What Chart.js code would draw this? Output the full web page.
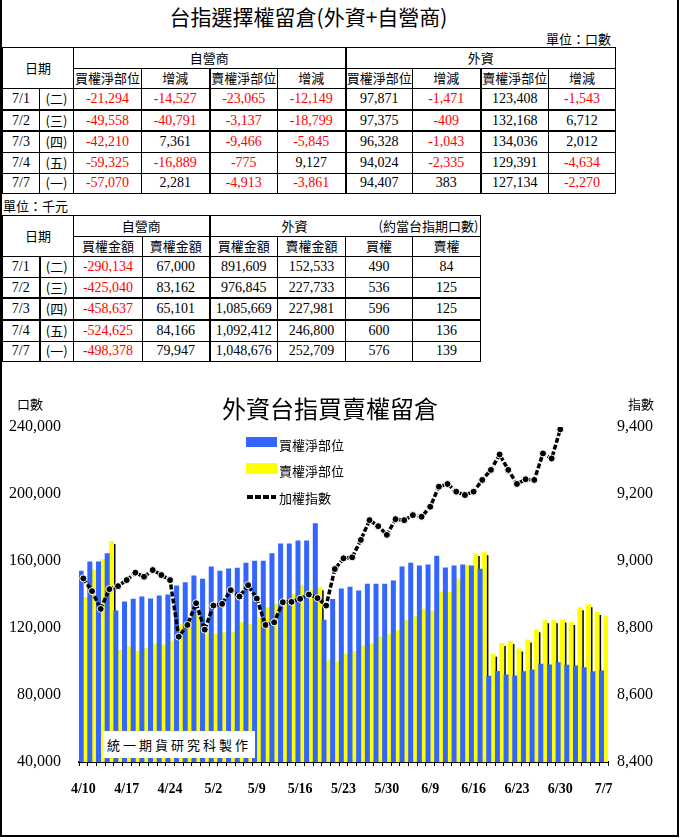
<!DOCTYPE html>
<html lang="zh-Hant">
<head>
<meta charset="UTF-8">
<title>台指選擇權留倉(外資+自營商)</title>
<script src="https://cdn.jsdelivr.net/npm/chart.js"></script>
<style>
  body { margin: 0; background: #fff; color: #000;
         font-family: "Liberation Serif", "Noto Sans CJK TC", serif; }
  #page { position: relative; width: 681px; height: 840px; overflow: hidden; }
  #frame { position: absolute; left: 0; top: 0; width: 675px; height: 835px;
           border-left: 2px solid #000; border-right: 2px solid #000; border-bottom: 2px solid #000; }
  .abs { position: absolute; white-space: nowrap; }
  .cjk { font-family: "Noto Sans CJK TC", sans-serif; }
  #title { left: 0; top: 1px; width: 617px; text-align: center; font-size: 21px; }
  #unit1 { left: 546px; top: 29px; font-size: 13px; }
  #unit2 { left: 3px; top: 196px; font-size: 13px; }
  table { position: absolute; border-collapse: collapse; table-layout: fixed; }
  td { border: 1px solid #000; padding: 0; text-align: center; font-size: 14px; line-height: 16px; overflow: hidden; white-space: nowrap; }
  td.h { font-family: "Noto Sans CJK TC", sans-serif; font-size: 13px; }
  td.neg { color: #ff0000; }
  #t1 { left: 2px; top: 47px; width: 613px; }
  #t1 td { height: 19.6px; }
  #t2 { left: 2px; top: 215px; width: 478px; }
  #t2 td { height: 19.6px; }
  .thickB { border-bottom: 2px solid #000; }
  .thickL { border-left: 2px solid #000; }
  #chartTitle { left: 0; top: 390px; width: 660px; text-align: center; font-size: 24px; }
  #axL { left: 17px; top: 394px; font-size: 13px; }
  #axR { left: 628px; top: 394px; font-size: 13px; }
  #chartBox { position: absolute; left: 0; top: 365px; width: 681px; height: 475px; }
  .lg { position: absolute; left: 246px; font-size: 13px; }
  .lg .sw { position: absolute; left: 0; width: 31px; }
  .lg span { position: absolute; left: 33px; white-space: nowrap; }
  #stamp { left: 103px; top: 731px; width: 152px; height: 27px; background: #fff;
           font-size: 13px; line-height: 27px; text-align: center; letter-spacing: 3px; }
</style>
</head>
<body>
<div id="page">
  <div id="frame"></div>
  <div id="title" class="abs cjk">台指選擇權留倉(外資+自營商)</div>
  <div id="unit1" class="abs cjk">單位：口數</div>
  <table id="t1"></table>
  <div id="unit2" class="abs cjk">單位：千元</div>
  <table id="t2"></table>

  <div id="chartBox"><canvas id="chart" width="681" height="475"></canvas></div>
  <div id="chartTitle" class="abs cjk">外資台指買賣權留倉</div>
  <div id="axL" class="abs cjk">口數</div>
  <div id="axR" class="abs cjk">指數</div>
  <div id="legend"></div>
  <div id="stamp" class="abs cjk">統一期貨研究科製作</div>
</div>

<script>
// ---- table data (口數) ----
const tableDates = ['7/1', '7/2', '7/3', '7/4', '7/7'];
const tableDays = ['(二)', '(三)', '(四)', '(五)', '(一)'];
const dealerCallNet = [-21294, -49558, -42210, -59325, -57070];
const dealerCallChg = [-14527, -40791, 7361, -16889, 2281];
const dealerPutNet = [-23065, -3137, -9466, -775, -4913];
const dealerPutChg = [-12149, -18799, -5845, 9127, -3861];
const foreignCallNet = [97871, 97375, 96328, 94024, 94407];
const foreignCallChg = [-1471, -409, -1043, -2335, 383];
const foreignPutNet = [123408, 132168, 134036, 129391, 127134];
const foreignPutChg = [-1543, 6712, 2012, -4634, -2270];

// ---- table data (千元) ----
const dealerCallAmt = [-290134, -425040, -458637, -524625, -498378];
const dealerPutAmt = [67000, 83162, 65101, 84166, 79947];
const foreignCallAmt = [891609, 976845, 1085669, 1092412, 1048676];
const foreignPutAmt = [152533, 227733, 227981, 246800, 252709];
const equivCall = [490, 536, 596, 600, 576];
const equivPut = [84, 125, 125, 136, 139];

// ---- chart data ----
const dates = ['4/10','4/11','4/14','4/15','4/16','4/17','4/18','4/21','4/22','4/23','4/24','4/25',
  '4/28','4/29','4/30','5/2','5/5','5/6','5/7','5/8','5/9','5/12','5/13','5/14','5/15','5/16',
  '5/19','5/20','5/21','5/22','5/23','5/26','5/27','5/28','5/29','5/30','6/3','6/4','6/5','6/6',
  '6/9','6/10','6/11','6/12','6/13','6/16','6/17','6/18','6/19','6/20','6/23','6/24','6/25','6/26',
  '6/27','6/30','7/1','7/2','7/3','7/4','7/7'];
const callNet = [154000, 159500, 159500, 164500, 130200, 135600, 137200, 138600, 137400, 139200,
  139800, 145200, 147100, 151100, 149200, 156500, 154000, 155400, 155700, 158700,
  160000, 160000, 164500, 170300, 170300, 172000, 172000, 182300, 124800, 137100,
  143400, 144400, 142200, 146200, 146200, 146200, 148200, 156500, 158800, 157100,
  157700, 163000, 155900, 157100, 157700, 157100, 155200, 91300, 94200, 92000,
  91500, 94000, 95000, 98400, 98000, 99342, 97871, 97375, 96328, 94024, 94407];
const putNet = [138300, 154800, 160800, 171700, 106900, 108900, 106000, 107800, 110500, 110000,
  112400, 122000, 125000, 128000, 116500, 116600, 117500, 117700, 123300, 122400,
  126200, 132200, 134500, 136000, 140000, 145800, 142700, 144200, 100800, 99800,
  104500, 106000, 109400, 110500, 114800, 116000, 118400, 124800, 126800, 131300,
  130300, 141600, 141400, 149300, 157200, 164600, 165000, 104500, 110800, 112000,
  107500, 113000, 119000, 124400, 124400, 124951, 123408, 132168, 134036, 129391, 127134];
const taiex = [8948, 8910, 8857, 8916, 8925, 8943, 8965, 8953, 8973, 8958,
  8943, 8774, 8809, 8874, 8795, 8867, 8872, 8913, 8894, 8928,
  8888, 8809, 8817, 8877, 8878, 8887, 8900, 8889, 8867, 8976,
  9008, 9011, 9063, 9122, 9104, 9078, 9125, 9122, 9137, 9132,
  9162, 9222, 9230, 9207, 9197, 9207, 9242, 9272, 9318, 9272,
  9230, 9244, 9242, 9321, 9306, 9393, 9460, 9470, 9480, 9490, 9485];

const fmt = v => v.toLocaleString('en-US');

function numCell(v, extra) {
  const cls = (v < 0 ? 'neg ' : '') + (extra || '');
  return '<td class="' + cls + '">' + fmt(v) + '</td>';
}

// table 1
(function () {
  const t = document.getElementById('t1');
  let html = '<colgroup><col style="width:37px"><col style="width:34px">' +
    [68, 68, 68, 68, 67, 68, 68, 67].map(w => '<col style="width:' + w + 'px">').join('') + '</colgroup>';
  html += '<tr><td class="h" colspan="2" rowspan="2">日期</td><td class="h" colspan="4">自營商</td>' +
          '<td class="h thickL" colspan="4">外資</td></tr>';
  html += '<tr>' + ['買權淨部位', '增減', '賣權淨部位', '增減', '買權淨部位', '增減', '賣權淨部位', '增減']
    .map((s, i) => '<td class="h' + (i === 2 || i === 4 || i === 6 ? ' thickL' : '') + '">' + s + '</td>').join('') + '</tr>';
  for (let i = 0; i < tableDates.length; i++) {
    const b = (i === 0 || i === 1) ? ' thickB' : '';
    html += '<tr><td class="' + b + '">' + tableDates[i] + '</td><td class="h' + b + '">' + tableDays[i] + '</td>' +
      numCell(dealerCallNet[i], b) + numCell(dealerCallChg[i], b) +
      numCell(dealerPutNet[i], 'thickL' + b) + numCell(dealerPutChg[i], b) +
      numCell(foreignCallNet[i], 'thickL' + b) + numCell(foreignCallChg[i], b) +
      numCell(foreignPutNet[i], 'thickL' + b) + numCell(foreignPutChg[i], b) + '</tr>';
  }
  t.innerHTML = html;
})();

// table 2
(function () {
  const t = document.getElementById('t2');
  let html = '<colgroup><col style="width:37px"><col style="width:34px">' +
    [69, 67, 68, 68, 67, 68].map(w => '<col style="width:' + w + 'px">').join('') + '</colgroup>';
  html += '<tr><td class="h" colspan="2" rowspan="2">日期</td><td class="h" colspan="2">自營商</td>' +
          '<td class="h thickL" colspan="4" style="text-align:left">' +
          '<span style="display:inline-block;width:168px;text-align:center">外資</span>' +
          '<span>(約當台指期口數)</span></td></tr>';
  html += '<tr>' + ['買權金額', '賣權金額', '買權金額', '賣權金額', '買權', '賣權']
    .map((s, i) => '<td class="h' + (i === 2 ? ' thickL' : '') + '">' + s + '</td>').join('') + '</tr>';
  for (let i = 0; i < tableDates.length; i++) {
    const b = (i === 1 || i === 2) ? ' thickB' : '';
    html += '<tr><td class="' + b + '">' + tableDates[i] + '</td><td class="h thickL' + b + '">' + tableDays[i] + '</td>' +
      numCell(dealerCallAmt[i], b) + numCell(dealerPutAmt[i], b) +
      numCell(foreignCallAmt[i], 'thickL' + b) + numCell(foreignPutAmt[i], b) +
      numCell(equivCall[i], b) + numCell(equivPut[i], b) + '</tr>';
  }
  t.innerHTML = html;
})();

// legend
(function () {
  const lg = document.getElementById('legend');
  lg.innerHTML =
    '<div class="lg cjk" style="top:435px"><div class="sw" style="top:2px;height:10px;background:#3366FF"></div><span>買權淨部位</span></div>' +
    '<div class="lg cjk" style="top:461px"><div class="sw" style="top:2px;height:11px;background:#FFFF00"></div><span>賣權淨部位</span></div>' +
    '<div class="lg cjk" style="top:488px"><svg class="sw" width="31" height="18" style="top:0"><line x1="1" y1="9" x2="30" y2="9" stroke="#000" stroke-width="4" stroke-dasharray="6 2"/></svg><span>加權指數</span></div>';
})();

// black drop shadow behind the yellow bars
const barShadow = {
  id: 'barShadow',
  beforeDatasetDraw(chart, args) {
    if (args.index !== 1) return;
    const ctx = chart.ctx;
    ctx.save();
    ctx.shadowColor = '#000';
    ctx.shadowOffsetX = 1.5;
    ctx.shadowOffsetY = 3;
    ctx.shadowBlur = 0;
  },
  afterDatasetDraw(chart, args) {
    if (args.index !== 1) return;
    chart.ctx.restore();
  }
};

Chart.defaults.color = '#000';
Chart.defaults.font.family = '"Liberation Serif", serif';

new Chart(document.getElementById('chart'), {
  type: 'bar',
  data: {
    labels: dates,
    datasets: [
      { label: '買權淨部位', data: callNet, backgroundColor: '#3366FF', yAxisID: 'y', order: 0,
        categoryPercentage: 1, barPercentage: 1 },
      { label: '賣權淨部位', data: putNet, backgroundColor: '#FFFF00', yAxisID: 'y', order: 1,
        categoryPercentage: 1, barPercentage: 1, clip: 0 },
      { type: 'line', label: '加權指數', data: taiex, yAxisID: 'y1', order: -1,
        borderColor: '#000', borderWidth: 3.5, borderDash: [5, 2], tension: 0,
        pointRadius: 3.5, pointBackgroundColor: '#000', pointBorderColor: '#fff', pointBorderWidth: 1 }
    ]
  },
  options: {
    responsive: false,
    maintainAspectRatio: false,
    devicePixelRatio: 1,
    animation: false,
    layout: { padding: { top: 62, left: 0, right: 0, bottom: 0 } },
    plugins: { legend: { display: false }, tooltip: { enabled: false } },
    scales: {
      x: {
        offset: true,
        grid: { display: true, drawOnChartArea: false, drawTicks: true, tickLength: 4, color: '#000', offset: true },
        border: { display: true, color: '#000', width: 2 },
        ticks: { autoSkip: false, maxRotation: 0, padding: 15, font: { size: 14, weight: 'bold' },
                 callback: (v, i) => (i % 5 === 0 ? dates[i] : '') },
        afterFit: s => { s.height = 78; }
      },
      y: {
        position: 'left', min: 40000, max: 240000,
        grid: { display: false, drawTicks: false }, border: { display: false },
        ticks: { stepSize: 40000, padding: 18, font: { size: 16 }, callback: v => fmt(v) },
        afterFit: s => { s.width = 79; }
      },
      y1: {
        position: 'right', min: 8400, max: 9400,
        grid: { display: false, drawTicks: false }, border: { display: false },
        ticks: { stepSize: 200, padding: 9, font: { size: 16 }, callback: v => fmt(v) },
        afterFit: s => { s.width = 73; }
      }
    }
  },
  plugins: [barShadow]
});
</script>
</body>
</html>
